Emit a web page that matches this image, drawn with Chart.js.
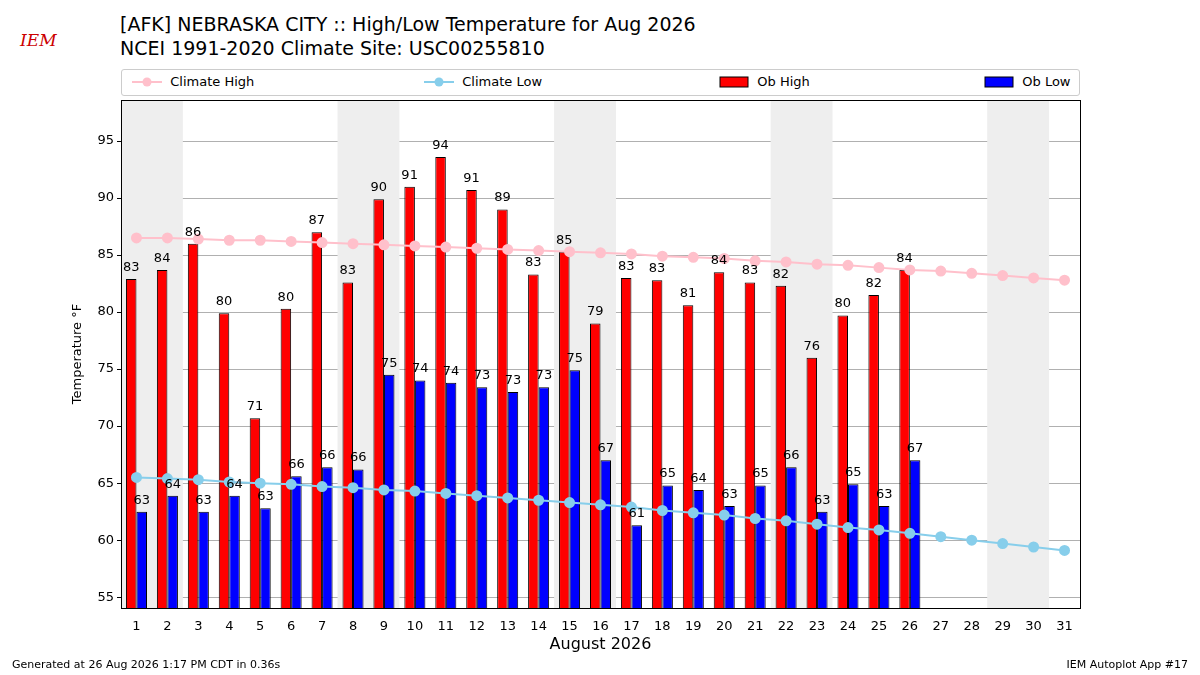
<!DOCTYPE html>
<html>
<head>
<meta charset="utf-8">
<script src="https://cdn.jsdelivr.net/npm/chart.js@4.4.0/dist/chart.umd.min.js"></script>
<style>
  body { margin:0; width:1200px; height:675px; position:relative; background:#fff; font-family:"DejaVu Sans", sans-serif; overflow:hidden; }
  #c { position:absolute; left:0; top:0; }
  .t { position:absolute; left:120px; font-size:19px; color:#000; }
  .legend { position:absolute; left:121px; top:69px; width:957px; height:25px; border:1px solid #ccc; border-radius:3px; font-size:13px; }
  .li { position:absolute; top:4px; display:flex; align-items:center; }
  .foot { position:absolute; top:658px; font-size:11px; }
  .logo { position:absolute; left:20px; top:30px; color:#c00; font-style:italic; font-family:"DejaVu Serif", serif; font-size:17px; }
</style>
</head>
<body>
<div class="logo">IEM</div>
<div class="t" style="top:13px">[AFK] NEBRASKA CITY :: High/Low Temperature for Aug 2026</div>
<div class="t" style="top:37px">NCEI 1991-2020 Climate Site: USC00255810</div>
<div class="legend">
  <div class="li" style="left:10px"><svg width="30" height="12"><line x1="0" y1="6" x2="30" y2="6" stroke="pink" stroke-width="2"/><circle cx="15" cy="6" r="4.5" fill="pink"/></svg>&nbsp;&nbsp;Climate High</div>
  <div class="li" style="left:302px"><svg width="30" height="12"><line x1="0" y1="6" x2="30" y2="6" stroke="skyblue" stroke-width="2"/><circle cx="15" cy="6" r="4.5" fill="skyblue"/></svg>&nbsp;&nbsp;Climate Low</div>
  <div class="li" style="left:597px"><svg width="30" height="12"><rect x="1" y="1" width="28" height="10" fill="red" stroke="#000"/></svg>&nbsp;&nbsp;Ob High</div>
  <div class="li" style="left:862px"><svg width="30" height="12"><rect x="1" y="1" width="28" height="10" fill="blue" stroke="#000"/></svg>&nbsp;&nbsp;Ob Low</div>
</div>
<canvas id="c" width="1200" height="675"></canvas>
<div class="foot" style="left:12px">Generated at 26 Aug 2026 1:17 PM CDT in 0.36s</div>
<div class="foot" style="right:12px">IEM Autoplot App #17</div>
<script>
const days = [];
for (let d = 1; d <= 31; d++) days.push(String(d));
const obHigh = [82.9,83.7,86.0,79.9,70.7,80.3,87.0,82.6,89.9,91.0,93.6,90.7,89.0,83.3,85.3,79.0,83.0,82.8,80.6,83.5,82.6,82.3,76.0,79.7,81.5,83.7];
const obLow = [62.5,63.9,62.5,63.9,62.8,65.6,66.4,66.2,74.5,74.0,73.8,73.4,73.0,73.4,74.9,67.0,61.3,64.8,64.4,63.0,64.8,66.4,62.5,64.9,63.0,67.0];
const climHigh = [86.5,86.5,86.4,86.3,86.3,86.2,86.1,86.0,85.9,85.8,85.7,85.6,85.5,85.4,85.3,85.2,85.1,84.9,84.8,84.7,84.5,84.4,84.2,84.1,83.9,83.7,83.6,83.4,83.2,83.0,82.8];
const climLow = [65.5,65.4,65.3,65.1,65.0,64.9,64.7,64.6,64.4,64.3,64.1,63.9,63.7,63.5,63.3,63.1,62.9,62.6,62.4,62.2,61.9,61.7,61.4,61.1,60.9,60.6,60.3,60.0,59.7,59.4,59.1];
const weekendStarts = [0, 7, 14, 21, 28]; // index of first day of each shaded pair

const shading = {
  id: 'shading',
  beforeDatasetsDraw(chart) {
    const {ctx, chartArea, scales: {x}} = chart;
    const half = (x.getPixelForValue(1) - x.getPixelForValue(0)) / 2;
    ctx.save();
    ctx.fillStyle = '#eeeeee';
    weekendStarts.forEach(i => {
      const a = x.getPixelForValue(i) - half, b = x.getPixelForValue(i + 1) + half;
      ctx.fillRect(a, chartArea.top, b - a, chartArea.bottom - chartArea.top);
    });
    ctx.restore();
  }
};
const barLabels = {
  id: 'barLabels',
  afterDatasetsDraw(chart) {
    const {ctx} = chart;
    ctx.save();
    ctx.fillStyle = '#000';
    ctx.font = '13px "DejaVu Sans"';
    ctx.textAlign = 'center';
    ctx.textBaseline = 'bottom';
    [2, 3].forEach(di => {
      chart.getDatasetMeta(di).data.forEach((bar, i) => {
        const v = chart.data.datasets[di].data[i];
        ctx.fillText(Math.round(v), bar.x, bar.y - 5);
      });
    });
    ctx.restore();
  }
};
const frame = {
  id: 'frame',
  afterDraw(chart) {
    const {ctx, chartArea: a} = chart;
    ctx.save();
    ctx.strokeStyle = '#000';
    ctx.lineWidth = 1;
    ctx.strokeRect(a.left + 0.5, a.top + 0.5, a.right - a.left, a.bottom - a.top);
    ctx.restore();
  }
};

new Chart(document.getElementById('c'), {
  data: {
    labels: days,
    datasets: [
      {type: 'line', data: climHigh, borderColor: 'pink', backgroundColor: 'pink', borderWidth: 2, pointRadius: 4.5, order: 0},
      {type: 'line', data: climLow, borderColor: 'skyblue', backgroundColor: 'skyblue', borderWidth: 2, pointRadius: 4.5, order: 0},
      {type: 'bar', data: obHigh, backgroundColor: 'red', borderColor: '#000', borderWidth: 1, order: 1, categoryPercentage: 0.68, barPercentage: 1, base: 54.05},
      {type: 'bar', data: obLow, backgroundColor: 'blue', borderColor: '#000', borderWidth: 1, order: 1, categoryPercentage: 0.68, barPercentage: 1, base: 54.05}
    ]
  },
  options: {
    responsive: false,
    animation: false,
    layout: {padding: {top: 100, right: 120, bottom: 17, left: 66}},
    plugins: {legend: {display: false}, tooltip: {enabled: false}},
    scales: {
      x: {
        grid: {display: false},
        border: {color: '#000'},
        ticks: {color: '#000', font: {size: 13, family: 'DejaVu Sans'}, maxRotation: 0, autoSkip: false},
        title: {display: true, text: 'August 2026', color: '#000', font: {size: 16, family: 'DejaVu Sans'}, padding: {top: 2}},
        afterFit(s) { s.height = 50; }
      },
      y: {
        min: 54.05, max: 98.6,
        grid: {color: '#b0b0b0', drawTicks: true, tickColor: '#000', tickLength: 4},
        border: {color: '#000'},
        ticks: {color: '#000', stepSize: 5, font: {size: 13, family: 'DejaVu Sans'}},
        afterBuildTicks(s) { s.ticks = [55,60,65,70,75,80,85,90,95].map(v => ({value: v})); },
        title: {display: true, text: 'Temperature °F', color: '#000', font: {size: 13, family: 'DejaVu Sans'}, padding: {bottom: 6}},
        afterFit(s) { s.width = 55; }
      }
    }
  },
  plugins: [shading, barLabels, frame]
});
</script>
</body>
</html>
